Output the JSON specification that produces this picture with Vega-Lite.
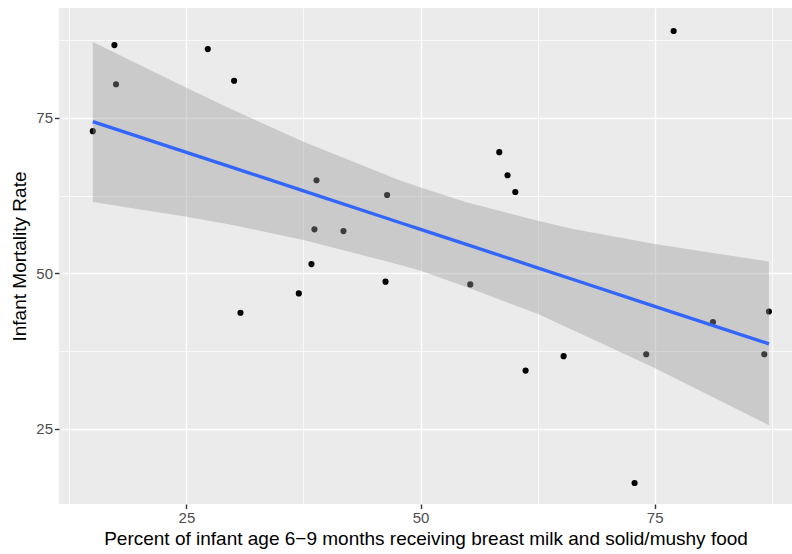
{
  "$schema": "https://vega.github.io/schema/vega-lite/v6.json",
  "width": 733,
  "height": 496,
  "autosize": {"type": "none"},
  "padding": {"left": 59, "top": 8, "right": 0, "bottom": 50},
  "background": "white",
  "config": {
    "font": "Liberation Sans",
    "view": {"fill": "#EBEBEB", "stroke": null},
    "axis": {
      "domain": false,
      "grid": true,
      "gridColor": "white",
      "gridWidth": {"condition": {"test": "datum.value % 25 === 0", "value": 1.4}, "value": 0.75},
      "tickColor": "#333333",
      "tickSize": 4.5,
      "tickWidth": 1.4,
      "tickOpacity": {"condition": {"test": "datum.value % 25 === 0", "value": 1}, "value": 0},
      "labelExpr": "datum.value % 25 === 0 ? datum.label : ''",
      "labelColor": "#4D4D4D",
      "labelFontSize": 15,
      "labelPadding": 2,
      "titleColor": "black",
      "titleFontSize": 19,
      "titleFontWeight": "normal"
    }
  },
  "datasets": {
    "pts": [
      {"pct": 17.31, "imr": 86.7},
      {"pct": 17.48, "imr": 80.4},
      {"pct": 15.0, "imr": 72.86},
      {"pct": 27.28, "imr": 86.06},
      {"pct": 30.09, "imr": 80.96},
      {"pct": 38.89, "imr": 64.97},
      {"pct": 46.43, "imr": 62.6},
      {"pct": 38.67, "imr": 57.08},
      {"pct": 41.77, "imr": 56.8},
      {"pct": 38.35, "imr": 51.49},
      {"pct": 46.26, "imr": 48.66},
      {"pct": 30.77, "imr": 43.66},
      {"pct": 37.0, "imr": 46.77},
      {"pct": 77.03, "imr": 88.96},
      {"pct": 58.41, "imr": 69.48},
      {"pct": 59.29, "imr": 65.77},
      {"pct": 60.12, "imr": 63.08},
      {"pct": 55.31, "imr": 48.22},
      {"pct": 61.22, "imr": 34.37},
      {"pct": 65.28, "imr": 36.68},
      {"pct": 74.1, "imr": 37.0},
      {"pct": 72.86, "imr": 16.29},
      {"pct": 81.23, "imr": 42.15},
      {"pct": 87.21, "imr": 43.87},
      {"pct": 86.71, "imr": 37.0}
    ],
    "band": [
      {"pct": 15.0, "lo": 61.47, "hi": 87.19, "fit": 74.4},
      {"pct": 25.0, "lo": 59.1, "hi": 79.85, "fit": 69.45},
      {"pct": 29.64, "lo": 57.85, "hi": 76.5, "fit": 67.15},
      {"pct": 37.5, "lo": 55.35, "hi": 71.15, "fit": 63.26},
      {"pct": 47.76, "lo": 51.4, "hi": 64.95, "fit": 58.18},
      {"pct": 50.0, "lo": 50.42, "hi": 63.8, "fit": 57.08},
      {"pct": 54.9, "lo": 47.8, "hi": 61.45, "fit": 54.65},
      {"pct": 62.5, "lo": 43.5, "hi": 58.45, "fit": 50.89},
      {"pct": 66.3, "lo": 40.85, "hi": 57.15, "fit": 49.01},
      {"pct": 75.0, "lo": 34.8, "hi": 54.7, "fit": 44.7},
      {"pct": 87.21, "lo": 25.6, "hi": 51.9, "fit": 38.66}
    ]
  },
  "layer": [
    {
      "data": {"name": "pts"},
      "mark": {"type": "circle", "size": 38, "color": "black", "opacity": 1},
      "encoding": {
        "x": {"field": "pct", "type": "quantitative",
          "scale": {"domain": [11.39, 89.67], "nice": false, "zero": false},
          "axis": {"values": [12.5, 25, 37.5, 50, 62.5, 75, 87.5], "title": "Percent of infant age 6\u22129 months receiving breast milk and solid/mushy food", "titlePadding": 4}},
        "y": {"field": "imr", "type": "quantitative",
          "scale": {"domain": [12.92, 92.66], "nice": false, "zero": false},
          "axis": {"values": [12.5, 25, 37.5, 50, 62.5, 75, 87.5], "title": "Infant Mortality Rate", "titlePadding": 6}}
      }
    },
    {
      "data": {"name": "band"},
      "mark": {"type": "area", "color": "#999999", "opacity": 0.4},
      "encoding": {
        "x": {"field": "pct", "type": "quantitative"},
        "y": {"field": "lo", "type": "quantitative"},
        "y2": {"field": "hi"}
      }
    },
    {
      "data": {"name": "band"},
      "mark": {"type": "line", "color": "#3366FF", "strokeWidth": 3.3},
      "encoding": {
        "x": {"field": "pct", "type": "quantitative"},
        "y": {"field": "fit", "type": "quantitative"}
      }
    }
  ]
}
